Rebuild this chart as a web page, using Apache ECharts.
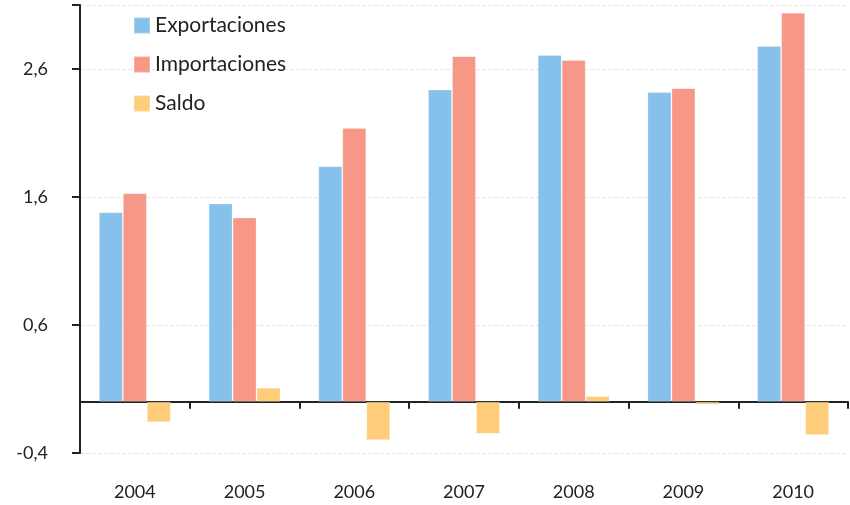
<!DOCTYPE html>
<html>
<head>
<meta charset="utf-8">
<script src="https://cdn.jsdelivr.net/npm/echarts@6/dist/echarts.min.js"></script>
<style>
html,body{margin:0;padding:0;background:#fff;}
#chart{width:850px;height:505px;}
</style>
</head>
<body>
<div id="chart"></div>
<script>
const years = ['2004','2005','2006','2007','2008','2009','2010'];
const exportaciones = [1.48, 1.55, 1.84, 2.44, 2.71, 2.42, 2.78];
const importaciones = [1.63, 1.44, 2.14, 2.70, 2.67, 2.45, 3.04];
const saldo = [-0.16, 0.11, -0.30, -0.25, 0.045, -0.023, -0.26];

const FONT = 'Lato, "Open Sans", sans-serif';
const chart = echarts.init(document.getElementById('chart'));
const barStyle = (c) => ({ color: c, borderColor: 'rgba(255,255,255,0.25)', borderWidth: 1 });

chart.setOption({
  backgroundColor: '#ffffff',
  animation: false,
  textStyle: { fontFamily: FONT },
  grid: { left: 80, right: 2, top: 5, bottom: 52, containLabel: false, outerBoundsMode: 'none' },
  legend: {
    orient: 'vertical',
    left: 128, top: 10,
    itemWidth: 16, itemHeight: 16, itemGap: 18,
    icon: 'rect',
    textStyle: { fontSize: 21, color: '#222', fontFamily: FONT },
    data: ['Exportaciones', 'Importaciones', 'Saldo']
  },
  xAxis: [
    {
      type: 'category',
      data: years,
      axisLine: { onZero: true, lineStyle: { color: '#222', width: 2 } },
      axisTick: { show: true, length: 7, lineStyle: { color: '#222', width: 2 } },
      axisLabel: { show: false },
      splitLine: { show: false }
    },
    {
      type: 'category',
      data: years,
      position: 'bottom',
      axisLine: { show: false, onZero: false },
      axisTick: { show: false },
      axisLabel: { show: true, margin: 30, fontSize: 18, color: '#222', fontFamily: FONT },
      splitLine: { show: false }
    }
  ],
  yAxis: {
    type: 'value',
    min: -0.4, max: 3.1, interval: 1,
    axisLine: { show: true, lineStyle: { color: '#222', width: 2 } },
    axisTick: { show: true, length: 8, lineStyle: { color: '#222', width: 2 } },
    axisLabel: {
      margin: 32, fontSize: 18, color: '#222', fontFamily: FONT,
      formatter: v => (Math.abs(v - 3.1) < 1e-6) ? '' : v.toFixed(1).replace('.', ',')
    },
    splitLine: { show: true, lineStyle: { color: '#e6e6e6', type: 'dashed', width: 1 } }
  },
  series: [
    { name: 'Exportaciones', type: 'bar', xAxisIndex: 0, data: exportaciones, barWidth: 24, barGap: '0%', itemStyle: barStyle('#85c1ea') },
    { name: 'Importaciones', type: 'bar', xAxisIndex: 0, data: importaciones, barWidth: 24, barGap: '0%', itemStyle: barStyle('#f69787') },
    { name: 'Saldo', type: 'bar', xAxisIndex: 0, data: saldo, barWidth: 24, barGap: '0%', itemStyle: barStyle('#ffcc7a') }
  ]
});
</script>
</body>
</html>
